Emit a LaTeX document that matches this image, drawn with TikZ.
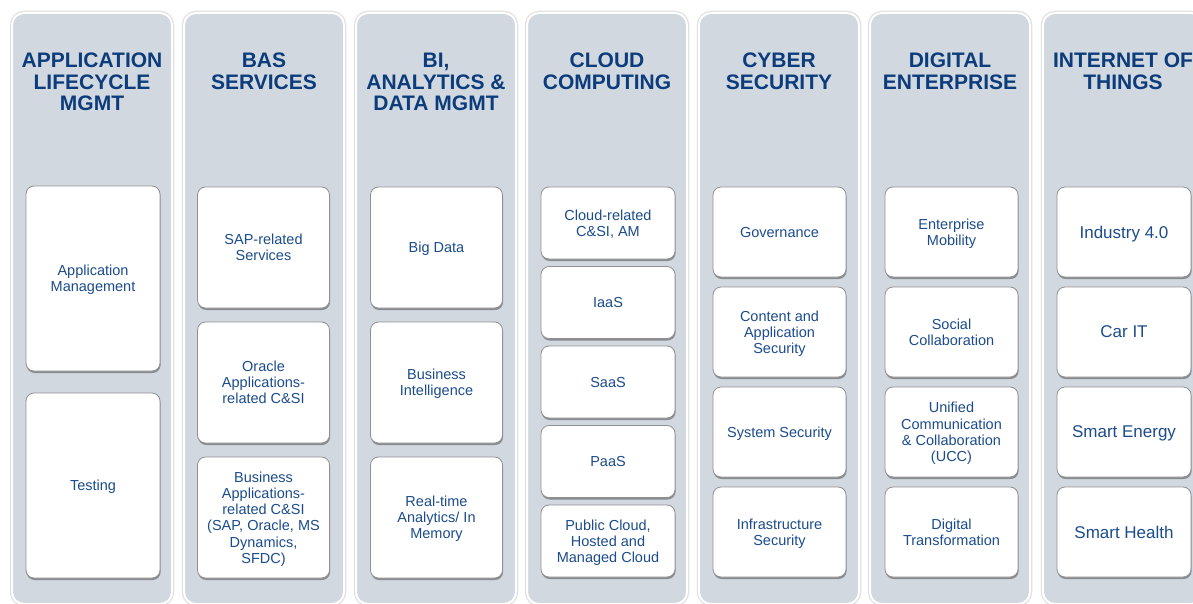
\documentclass[tikz,border=0pt]{standalone}
\usepackage{fontspec}
\setmainfont{Liberation Sans}
\usepackage{tikz}
\usetikzlibrary{positioning, shadows}

\definecolor{lanefill}{RGB}{209,216,224}
\definecolor{headblue}{RGB}{12,60,123}
\definecolor{itemblue}{RGB}{28,76,140}
\definecolor{itemedge}{RGB}{145,145,145}

\tikzset{
    lane/.style={
        rectangle,
        rounded corners=12pt,
        fill=lanefill,
        draw=white,
        line width=2pt,
        preaction={draw=black!12, line width=4.5pt},
        minimum width=160pt,
        minimum height=591pt,
        anchor=north,
        inner sep=0pt
    },
    heading/.style={
        font=\bfseries\fontsize{21}{21.5}\selectfont,
        text=headblue,
        align=center,
        anchor=north,
        inner sep=0pt
    },
    item/.style={
        rectangle,
        rounded corners=8pt,
        draw=itemedge,
        line width=0.8pt,
        fill=white,
        drop shadow={shadow xshift=0.6pt, shadow yshift=-2pt, opacity=0.35, fill=black},
        text=itemblue,
        align=center,
        font=\fontsize{14.5}{16.2}\selectfont,
        text depth=-3.5pt,
        inner sep=2pt
    },
    tallitem/.style={item, minimum width=134pt, minimum height=185pt},
    miditem/.style={item, minimum width=132pt, minimum height=121pt},
    smallitem/.style={item, minimum width=134pt, minimum height=72pt},
    quarteritem/.style={item, minimum width=133pt, minimum height=90pt},
    bigtext/.style={font=\fontsize{17}{19}\selectfont}
}

\begin{document}
\begin{tikzpicture}[x=1pt, y=-1pt]

\useasboundingbox (0,0) rectangle (1193,604);
\clip (0,0) rectangle (1193,604);

% Background lanes
\node[lane] (lane1) at (92,12) {};
\node[lane] (lane2) at (264,12) {};
\node[lane] (lane3) at (436,12) {};
\node[lane] (lane4) at (607,12) {};
\node[lane] (lane5) at (779,12) {};
\node[lane] (lane6) at (950,12) {};
\node[lane] (lane7) at (1123,12) {};

% Lane headings
\node[heading] (head1) at (92,53) {APPLICATION\\LIFECYCLE\\MGMT};
\node[heading] (head2) at (264,53) {BAS\\SERVICES};
\node[heading] (head3) at (436,53) {BI,\\ANALYTICS \&\\DATA MGMT};
\node[heading] (head4) at (607,53) {CLOUD\\COMPUTING};
\node[heading] (head5) at (779,53) {CYBER\\SECURITY};
\node[heading] (head6) at (950,53) {DIGITAL\\ENTERPRISE};
\node[heading] (head7) at (1123,53) {INTERNET OF\\THINGS};

% Application lifecycle
\node[tallitem] (alm1) at (93,278.5) {Application\\Management};
\node[tallitem, below=21.2pt of alm1] (alm2) {Testing};

% BAS services
\node[miditem] (bas1) at (263.5,247.5) {SAP-related\\Services};
\node[miditem, below=13.2pt of bas1] (bas2) {Oracle\\Applications-\\related C\&SI};
\node[miditem, below=13.2pt of bas2] (bas3) {Business\\Applications-\\related C\&SI\\(SAP, Oracle, MS\\Dynamics,\\SFDC)};

% BI and data
\node[miditem] (bi1) at (436.5,247.5) {Big Data};
\node[miditem, below=13.2pt of bi1] (bi2) {Business\\Intelligence};
\node[miditem, below=13.2pt of bi2] (bi3) {Real-time\\Analytics/ In\\Memory};

% Cloud
\node[smallitem] (cloud1) at (608,223) {Cloud-related\\C\&SI, AM};
\node[smallitem, below=6.7pt of cloud1] (cloud2) {IaaS};
\node[smallitem, below=6.7pt of cloud2] (cloud3) {SaaS};
\node[smallitem, below=6.7pt of cloud3] (cloud4) {PaaS};
\node[smallitem, below=6.7pt of cloud4] (cloud5) {Public Cloud,\\Hosted and\\Managed Cloud};

% Cyber security
\node[quarteritem] (sec1) at (779.5,232) {Governance};
\node[quarteritem, below=9.2pt of sec1] (sec2) {Content and\\Application\\Security};
\node[quarteritem, below=9.2pt of sec2] (sec3) {System Security};
\node[quarteritem, below=9.2pt of sec3] (sec4) {Infrastructure\\Security};

% Digital enterprise
\node[quarteritem] (dig1) at (951.5,232) {Enterprise\\Mobility};
\node[quarteritem, below=9.2pt of dig1] (dig2) {Social\\Collaboration};
\node[quarteritem, below=9.2pt of dig2] (dig3) {Unified\\Communication\\\& Collaboration\\(UCC)};
\node[quarteritem, below=9.2pt of dig3] (dig4) {Digital\\Transformation};

% Internet of things
\node[quarteritem, bigtext, minimum width=134pt] (iot1) at (1124,232) {Industry 4.0};
\node[quarteritem, bigtext, minimum width=134pt, below=9.2pt of iot1] (iot2) {Car IT};
\node[quarteritem, bigtext, minimum width=134pt, below=9.2pt of iot2] (iot3) {Smart Energy};
\node[quarteritem, bigtext, minimum width=134pt, below=9.2pt of iot3] (iot4) {Smart Health};

\end{tikzpicture}
\end{document}
